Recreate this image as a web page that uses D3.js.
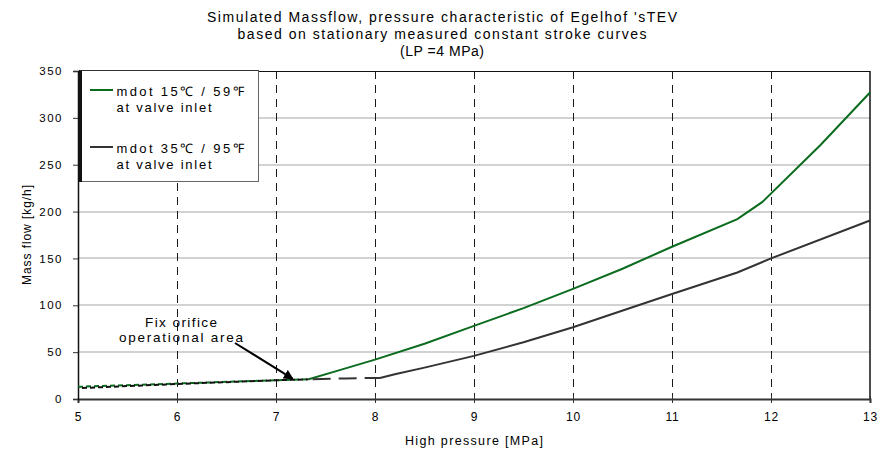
<!DOCTYPE html>
<html>
<head>
<meta charset="utf-8">
<script src="https://cdn.jsdelivr.net/npm/d3@7"></script>
<style>
  html, body { margin: 0; padding: 0; background: #fff; }
  svg text { font-family: "Liberation Sans", Arial, sans-serif; fill: #000; }
</style>
</head>
<body>
<svg id="chart" width="884" height="450"></svg>
<script>
// High pressure [MPa]
const pressure15 = [5, 5.5, 6, 6.5, 7, 7.33, 7.6, 8, 8.5, 9, 9.5, 10, 10.5, 11, 11.66, 11.91, 12.5, 13];
// Mass flow [kg/h], 15 °C valve inlet
const massflow15 = [13, 14.8, 16.5, 18.3, 20, 21, 29.5, 42, 59, 78, 97, 117.5, 139, 162.5, 192, 210, 271, 327];

const pressure35 = [5, 5.5, 6, 6.5, 7, 7.33, 7.7, 8.05, 8.2, 8.5, 9, 9.5, 10, 10.54, 11, 11.66, 12, 13];
// Mass flow [kg/h], 35 °C valve inlet
const massflow35 = [11.5, 13.8, 16, 18, 20, 21, 22, 22.5, 26.5, 33.5, 46, 60.5, 76.5, 95.7, 112, 135, 150, 190.5];

// end of the fixed-orifice regime and of the transition for each curve
const orificeEnd = 7.33;
const transitionEnd35 = 8.05;

const xTicks = [5, 6, 7, 8, 9, 10, 11, 12, 13];
const yTicks = [0, 50, 100, 150, 200, 250, 300, 350];

const titleLines = [
  "Simulated Massflow, pressure characteristic of Egelhof 'sTEV",
  "based on stationary measured constant stroke curves",
  "(LP =4 MPa)"
];
const legendLabels = [
  ["mdot 15\u2103 / 59\u2109", "at valve inlet"],
  ["mdot 35\u2103 / 95\u2109", "at valve inlet"]
];
const annotationLines = ["Fix orifice", "operational area"];
const xTitle = "High pressure [MPa]";
const yTitle = "Mass flow [kg/h]";

const green = "#0b6b1e";
const dark = "#333333";

const plot = { left: 78, right: 870, top: 71, bottom: 399 };
const svg = d3.select("#chart");

const x = d3.scaleLinear().domain([5, 13]).range([plot.left, plot.right]);
const y = d3.scaleLinear().domain([0, 350]).range([plot.bottom, plot.top]);
const crisp = v => Math.round(v) + 0.5;

// horizontal grid
svg.append("g")
  .selectAll("line")
  .data(yTicks.filter(v => v > 0 && v < 350))
  .join("line")
  .attr("x1", plot.left).attr("x2", plot.right)
  .attr("y1", d => Math.round(y(d))).attr("y2", d => Math.round(y(d)))
  .attr("stroke", "#d2d2d2").attr("stroke-width", 2);

// vertical dashed grid
svg.append("g")
  .selectAll("line")
  .data(xTicks.filter(v => v > 5 && v < 13))
  .join("line")
  .attr("x1", d => crisp(x(d))).attr("x2", d => crisp(x(d)))
  .attr("y1", plot.top).attr("y2", plot.bottom)
  .attr("stroke", "#1a1a1a").attr("stroke-width", 1)
  .attr("stroke-dasharray", "8,6");

// frame top / right
svg.append("line").attr("x1", plot.left).attr("x2", plot.right)
  .attr("y1", plot.top + 0.5).attr("y2", plot.top + 0.5)
  .attr("stroke", "#111").attr("stroke-width", 1);
svg.append("line").attr("x1", plot.right).attr("x2", plot.right)
  .attr("y1", plot.top).attr("y2", plot.bottom)
  .attr("stroke", "#111").attr("stroke-width", 1.5);

// axes
const xAxis = d3.axisBottom(x).tickValues(xTicks).tickSize(4).tickPadding(9).tickFormat(d3.format("d"));
const gx = svg.append("g").attr("transform", `translate(0,${plot.bottom})`).call(xAxis);
gx.select(".domain").attr("stroke", "#333").attr("stroke-width", 2);
gx.selectAll(".tick line").attr("stroke", "#333").attr("y1", -3);
gx.selectAll(".tick text").attr("font-size", "12px").attr("letter-spacing", "0.8px")
  .attr("fill", "#111").attr("font-family", "'Liberation Sans', Arial, sans-serif");

const yAxis = d3.axisLeft(y).tickValues(yTicks).tickSize(5).tickPadding(10);
const gy = svg.append("g").attr("transform", `translate(${plot.left},0)`).call(yAxis);
gy.select(".domain").attr("stroke", "#111").attr("stroke-width", 1.5);
gy.selectAll(".tick line").attr("stroke", "#333");
gy.selectAll(".tick text").attr("font-size", "11.5px").attr("letter-spacing", "1.5px")
  .attr("fill", "#111").attr("font-family", "'Liberation Sans', Arial, sans-serif");

// series
const line = d3.line().x(d => x(d[0])).y(d => y(d[1]));
const pts15 = pressure15.map((p, i) => [p, massflow15[i]]);
const pts35 = pressure35.map((p, i) => [p, massflow35[i]]);

const plotG = svg.append("g");
function seg(pts, lo, hi) { return pts.filter(d => d[0] >= lo && d[0] <= hi); }

// 15 °C curve
plotG.append("path").datum(seg(pts15, orificeEnd, 13)).attr("d", line)
  .attr("fill", "none").attr("stroke", green).attr("stroke-width", 2);
plotG.append("path").datum(seg(pts15, 5, orificeEnd)).attr("d", line)
  .attr("fill", "none").attr("stroke", green).attr("stroke-width", 2)
  .attr("stroke-dasharray", "5,3");

// 35 °C curve
plotG.append("path").datum(seg(pts35, 5, orificeEnd)).attr("d", line)
  .attr("fill", "none").attr("stroke", "#111").attr("stroke-width", 2)
  .attr("stroke-dasharray", "5,3").attr("stroke-dashoffset", 4);
plotG.append("path").datum(seg(pts35, orificeEnd, transitionEnd35)).attr("d", line)
  .attr("fill", "none").attr("stroke", dark).attr("stroke-width", 2)
  .attr("stroke-dasharray", "18,8").attr("stroke-dashoffset", -4);
plotG.append("path").datum(seg(pts35, transitionEnd35, 13)).attr("d", line)
  .attr("fill", "none").attr("stroke", dark).attr("stroke-width", 2);

// annotation
svg.append("defs").append("marker")
  .attr("id", "arrowhead").attr("viewBox", "0 0 10 10")
  .attr("refX", 9).attr("refY", 5)
  .attr("markerWidth", 5).attr("markerHeight", 5)
  .attr("markerUnits", "strokeWidth")
  .attr("orient", "auto")
  .append("path").attr("d", "M0,0 L10,5 L0,10 Z").attr("fill", "#000");

svg.append("line")
  .attr("x1", 235).attr("y1", 343)
  .attr("x2", x(7.17)).attr("y2", y(21.5))
  .attr("stroke", "#000").attr("stroke-width", 2)
  .attr("marker-end", "url(#arrowhead)");

const ann = svg.append("text").attr("text-anchor", "middle").attr("font-size", "13.5px");
ann.append("tspan").attr("x", 181).attr("y", 326.5).attr("textLength", 72).attr("lengthAdjust", "spacing").text(annotationLines[0]);
ann.append("tspan").attr("x", 181).attr("y", 341.5).attr("textLength", 124).attr("lengthAdjust", "spacing").text(annotationLines[1]);

// legend
const lg = svg.append("g");
lg.append("rect").attr("x", 80.5).attr("y", 70.5).attr("width", 178).attr("height", 111)
  .attr("fill", "#fff").attr("stroke", "#666").attr("stroke-width", 1);
lg.append("line").attr("x1", 80.5).attr("x2", 80.5).attr("y1", 70).attr("y2", 182)
  .attr("stroke", "#111").attr("stroke-width", 3);
lg.append("line").attr("x1", 80).attr("x2", 259).attr("y1", 70.5).attr("y2", 70.5)
  .attr("stroke", "#333").attr("stroke-width", 1);

const legendColors = [green, dark];
const legendY = [90, 147];
legendLabels.forEach((lines, i) => {
  lg.append("line").attr("x1", 90).attr("x2", 113)
    .attr("y1", legendY[i]).attr("y2", legendY[i])
    .attr("stroke", legendColors[i]).attr("stroke-width", 2);
  const t = lg.append("text").attr("font-size", "13px");
  t.append("tspan").attr("x", 116.5).attr("y", legendY[i] + 5.5)
    .attr("textLength", 127).attr("lengthAdjust", "spacing").text(lines[0]);
  t.append("tspan").attr("x", 116.5).attr("y", legendY[i] + 21.5)
    .attr("textLength", 95).attr("lengthAdjust", "spacing").text(lines[1]);
});

// title
const titleWidths = [470, 409, 84];
const title = svg.append("text").attr("text-anchor", "middle").attr("font-size", "14px");
titleLines.forEach((s, i) => {
  title.append("tspan").attr("x", 442).attr("y", 21.5 + i * 17)
    .attr("textLength", titleWidths[i]).attr("lengthAdjust", "spacing").text(s);
});

// axis titles
svg.append("text").attr("x", (plot.left + plot.right) / 2).attr("y", 445)
  .attr("text-anchor", "middle").attr("font-size", "12.5px")
  .attr("textLength", 138).attr("lengthAdjust", "spacing").text(xTitle);
svg.append("text")
  .attr("transform", `translate(31,${(plot.top + plot.bottom) / 2}) rotate(-90)`)
  .attr("text-anchor", "middle").attr("font-size", "12px")
  .attr("textLength", 100).attr("lengthAdjust", "spacing").text(yTitle);
</script>
</body>
</html>
